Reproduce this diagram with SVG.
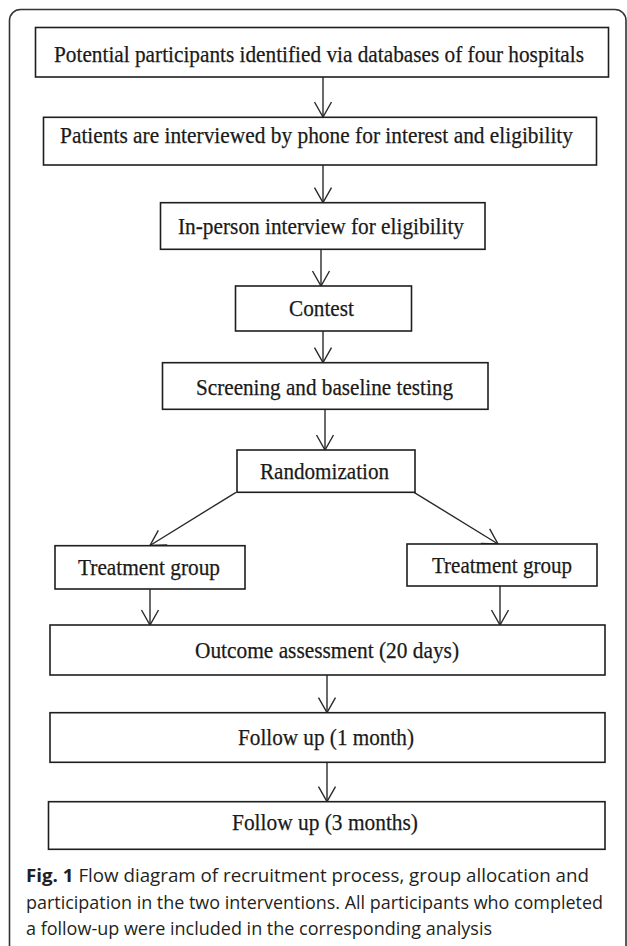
<svg xmlns="http://www.w3.org/2000/svg" width="627" height="946" viewBox="0 0 627 946">
  <style>
    .box { fill: #ffffff; stroke: #1e1e1e; stroke-width: 1.6; }
    .lbl { font-family: "Liberation Serif", "Times New Roman", serif; font-size: 23px; fill: #1a1a1a; text-anchor: middle; stroke: #1a1a1a; stroke-width: 0.25; }
    .con { stroke: #2a2a2a; stroke-width: 1.4; fill: none; marker-end: url(#arr); }
    .cap { font-family: "Open Sans", "Noto Sans", sans-serif; font-size: 18.5px; fill: #231f20; }
  </style>
  <defs>
    <marker id="arr" viewBox="-17 -10 19 20" refX="0" refY="0" markerWidth="19" markerHeight="20" orient="auto" markerUnits="userSpaceOnUse">
      <path d="M-15,-8.5 L0,0 L-15,8.5" fill="none" stroke="#2a2a2a" stroke-width="1.4"/>
    </marker>
  </defs>
  <rect x="0" y="0" width="627" height="946" fill="#ffffff"/>
  <rect x="9.5" y="9.5" width="616.5" height="960" rx="11" fill="none" stroke="#333333" stroke-width="1.6"/>

  <g id="connectors">
    <line class="con" x1="323" y1="77" x2="323" y2="117"/>
    <line class="con" x1="323" y1="165" x2="323" y2="202.7"/>
    <line class="con" x1="321" y1="249.3" x2="321" y2="286"/>
    <line class="con" x1="323" y1="331" x2="323" y2="362.7"/>
    <line class="con" x1="325" y1="409.3" x2="325" y2="450"/>
    <line class="con" x1="236" y1="492.3" x2="150" y2="545.5"/>
    <line class="con" x1="414" y1="492.3" x2="498" y2="544"/>
    <line class="con" x1="150" y1="589" x2="150" y2="625"/>
    <line class="con" x1="500" y1="586" x2="500" y2="625"/>
    <line class="con" x1="327" y1="675" x2="327" y2="712.7"/>
    <line class="con" x1="327" y1="762.3" x2="327" y2="801.7"/>
  </g>

  <g id="n1">
    <rect class="box" x="35.5" y="27.5" width="573" height="49.5"/>
    <text class="lbl" x="319" y="61.5" textLength="530" lengthAdjust="spacingAndGlyphs">Potential participants identified via databases of four hospitals</text>
  </g>
  <g id="n2">
    <rect class="box" x="43.5" y="117.3" width="553" height="47.7"/>
    <text class="lbl" x="316.5" y="142.5" textLength="513" lengthAdjust="spacingAndGlyphs">Patients are interviewed by phone for interest and eligibility</text>
  </g>
  <g id="n3">
    <rect class="box" x="160.5" y="202.7" width="324.5" height="46.6"/>
    <text class="lbl" x="321" y="234" textLength="286" lengthAdjust="spacingAndGlyphs">In-person interview for eligibility</text>
  </g>
  <g id="n4">
    <rect class="box" x="235.5" y="286" width="176" height="45"/>
    <text class="lbl" x="321.5" y="316" textLength="65" lengthAdjust="spacingAndGlyphs">Contest</text>
  </g>
  <g id="n5">
    <rect class="box" x="162.5" y="362.7" width="325.5" height="46.6"/>
    <text class="lbl" x="324.5" y="394.5" textLength="257" lengthAdjust="spacingAndGlyphs">Screening and baseline testing</text>
  </g>
  <g id="n6">
    <rect class="box" x="237" y="450" width="178" height="42.3"/>
    <text class="lbl" x="324.5" y="478.5" textLength="129" lengthAdjust="spacingAndGlyphs">Randomization</text>
  </g>
  <g id="n7">
    <rect class="box" x="55" y="545.7" width="190" height="43.3"/>
    <text class="lbl" x="149" y="574.5" textLength="142" lengthAdjust="spacingAndGlyphs">Treatment group</text>
  </g>
  <g id="n8">
    <rect class="box" x="407" y="544" width="190" height="42"/>
    <text class="lbl" x="502" y="572.5" textLength="140" lengthAdjust="spacingAndGlyphs">Treatment group</text>
  </g>
  <g id="n9">
    <rect class="box" x="50" y="625" width="555" height="50"/>
    <text class="lbl" x="327" y="657.5" textLength="264" lengthAdjust="spacingAndGlyphs">Outcome assessment (20 days)</text>
  </g>
  <g id="n10">
    <rect class="box" x="50" y="712.7" width="555" height="49.6"/>
    <text class="lbl" x="326" y="744.5" textLength="176" lengthAdjust="spacingAndGlyphs">Follow up (1 month)</text>
  </g>
  <g id="n11">
    <rect class="box" x="48.5" y="801.7" width="556.5" height="47.6"/>
    <text class="lbl" x="325" y="829.5" textLength="186" lengthAdjust="spacingAndGlyphs">Follow up (3 months)</text>
  </g>

  <g id="caption">
    <text class="cap" x="26" y="882" textLength="563" lengthAdjust="spacingAndGlyphs"><tspan font-weight="bold">Fig. 1</tspan> Flow diagram of recruitment process, group allocation and</text>
    <text class="cap" x="26" y="908.5" textLength="577" lengthAdjust="spacingAndGlyphs">participation in the two interventions. All participants who completed</text>
    <text class="cap" x="26" y="935" textLength="466" lengthAdjust="spacingAndGlyphs">a follow-up were included in the corresponding analysis</text>
  </g>
</svg>
